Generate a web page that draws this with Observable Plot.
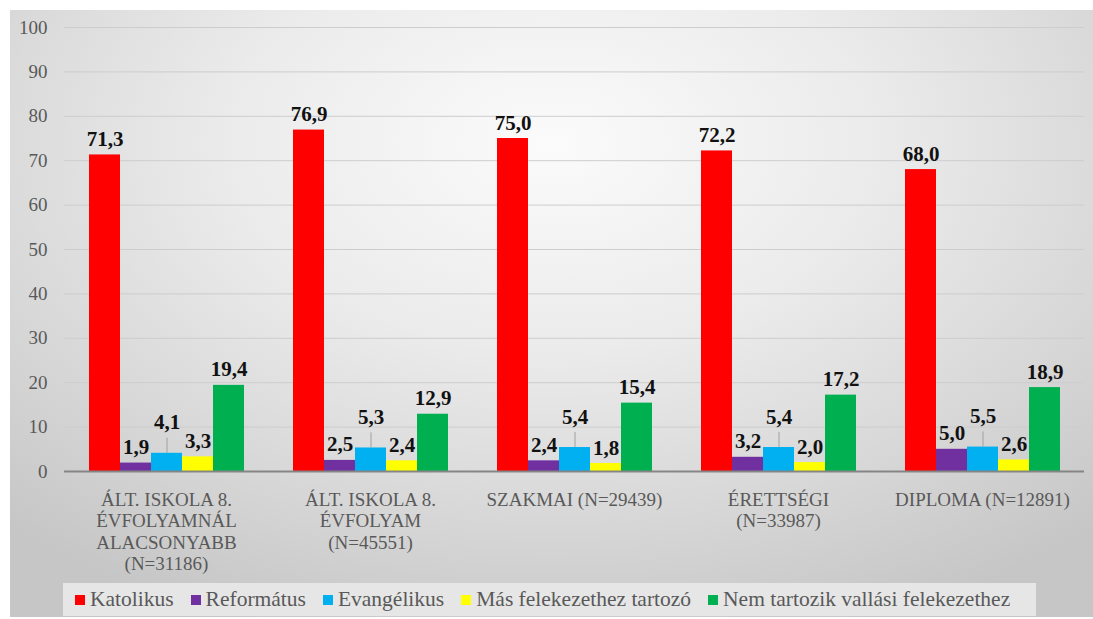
<!DOCTYPE html>
<html>
<head>
<meta charset="utf-8">
<script src="https://cdn.jsdelivr.net/npm/d3@7"></script>
<script src="https://cdn.jsdelivr.net/npm/@observablehq/plot@0.6"></script>
<style>
  html, body { margin: 0; padding: 0; background: #ffffff; }
  #wrap { position: relative; width: 1093px; height: 619px; overflow: hidden; }
  #bg { position: absolute; left: 10px; top: 10px; width: 1083px; height: 607px;
        background: radial-gradient(ellipse 75% 85% at 50% 22%, #fbfbfb 0%, #ebebeb 40%, #d6d6d6 75%, #c6c6c6 100%); }
  #chart { position: absolute; left: 0; top: 0; }
  #legend { position: absolute; left: 63px; top: 583px; width: 973px; height: 33px;
            background: #e6e6e6; display: flex; align-items: center; box-sizing: border-box; padding-left: 12px;
            font-family: "Liberation Serif", Tinos, "Times New Roman", "DejaVu Serif", serif; font-size: 21.5px; color: #595959; }
  .item { display: flex; align-items: center; margin-right: 17px; white-space: nowrap; }
  .sw { width: 10px; height: 10px; margin-right: 5px; }
</style>
</head>
<body>
<div id="wrap">
  <div id="bg"></div>
  <div id="chart"></div>
  <div id="legend"></div>
</div>
<script>
const categories = [
  "ÁLT. ISKOLA 8.\nÉVFOLYAMNÁL\nALACSONYABB\n(N=31186)",
  "ÁLT. ISKOLA 8.\nÉVFOLYAM\n(N=45551)",
  "SZAKMAI (N=29439)",
  "ÉRETTSÉGI\n(N=33987)",
  "DIPLOMA (N=12891)"
];
const series = ["Katolikus", "Református", "Evangélikus", "Más felekezethez tartozó", "Nem tartozik vallási felekezethez"];
const colors = ["#ff0000", "#7030a0", "#00b0f0", "#ffff00", "#00b050"];
const katolikus   = [71.3, 76.9, 75.0, 72.2, 68.0];
const reformatus  = [1.9, 2.5, 2.4, 3.2, 5.0];
const evangelikus = [4.1, 5.3, 5.4, 5.4, 5.5];
const mas         = [3.3, 2.4, 1.8, 2.0, 2.6];
const nem         = [19.4, 12.9, 15.4, 17.2, 18.9];
const yTicks = [0, 10, 20, 30, 40, 50, 60, 70, 80, 90, 100];

const values = [katolikus, reformatus, evangelikus, mas, nem];
const data = categories.flatMap((c, i) => series.map((s, j) => ({cat: c, ser: s, v: values[j][i]})));
const fmt = v => v.toFixed(1).replace(".", ",");
const evang = data.filter(d => d.ser === "Evangélikus");
const others = data.filter(d => d.ser !== "Evangélikus");
const font = '"Liberation Serif", Tinos, "Times New Roman", "DejaVu Serif", serif';

const chart = Plot.plot({
  width: 1093,
  height: 580,
  marginTop: 27,
  marginBottom: 109,
  marginLeft: 62,
  marginRight: 8,
  style: {background: "transparent", fontFamily: font, color: "#595959", overflow: "visible"},
  fx: {domain: categories, padding: 0, label: null},
  x: {domain: series, paddingInner: 0, paddingOuter: 0.78, axis: null},
  y: {domain: [0, 100], label: null},
  color: {domain: series, range: colors},
  marks: [
    Plot.ruleY(yTicks.filter(t => t > 0), {stroke: "#cdcdcd", strokeWidth: 1}),
    Plot.axisY({ticks: yTicks, tickSize: 0, tickPadding: 17, fontSize: 19, label: null, fill: "#595959", fontFamily: font}),
    Plot.axisFx({anchor: "bottom", tickSize: 0, tickPadding: 19, fontSize: 19, lineHeight: 1.13, label: null, fill: "#595959", fontFamily: font}),
    Plot.barY(data, {fx: "cat", x: "ser", y: "v", fill: "ser"}),
    Plot.ruleY([0], {stroke: "#858585", strokeWidth: 2}),
    Plot.text(others, {fx: "cat", x: "ser", y: "v", text: d => fmt(d.v), dy: -9, lineAnchor: "bottom",
      fontWeight: "bold", fontSize: 21, fill: "#111111", fontFamily: font}),
    Plot.ruleX(evang, {fx: "cat", x: "ser", y1: "v", y2: d => d.v + 3.4, stroke: "#a0a0a0", strokeWidth: 1}),
    Plot.text(evang, {fx: "cat", x: "ser", y: "v", text: d => fmt(d.v), dy: -24, lineAnchor: "bottom",
      fontWeight: "bold", fontSize: 21, fill: "#111111", fontFamily: font})
  ]
});
document.getElementById("chart").appendChild(chart);

const legend = document.getElementById("legend");
series.forEach((s, i) => {
  const item = document.createElement("div");
  item.className = "item";
  const sw = document.createElement("div");
  sw.className = "sw";
  sw.style.background = colors[i];
  const t = document.createElement("span");
  t.textContent = s;
  item.appendChild(sw);
  item.appendChild(t);
  legend.appendChild(item);
});
</script>
</body>
</html>
